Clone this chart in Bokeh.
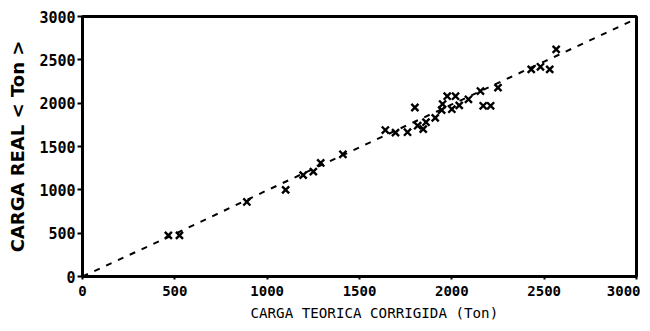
from bokeh.plotting import figure
from bokeh.models import Range1d, FixedTicker, Title
from bokeh.embed import file_html
from bokeh.resources import INLINE

# Data
carga_teorica = [465, 525, 890, 1100, 1195, 1250, 1290, 1410, 1640, 1695, 1760, 1800,
                 1815, 1845, 1860, 1910, 1945, 1950, 1975, 2000, 2020, 2040, 2090, 2155,
                 2170, 2210, 2250, 2430, 2480, 2530, 2565]
carga_real = [475, 475, 860, 1000, 1170, 1210, 1310, 1410, 1690, 1660, 1665, 1950,
              1740, 1700, 1780, 1830, 1920, 1990, 2080, 1930, 2080, 1975, 2045, 2140,
              1970, 1970, 2180, 2390, 2420, 2390, 2620]
fit_x = [0, 500, 1000, 1500, 2000, 2500, 3000]
fit_y = [0, 490, 995, 1490, 1985, 2480, 2975]
ticks = [0, 500, 1000, 1500, 2000, 2500, 3000]

p = figure(width=640, height=325, output_backend="svg", toolbar_location=None,
           x_range=Range1d(0, 3000), y_range=Range1d(0, 3000),
           min_border_left=82, min_border_right=4, min_border_top=16, min_border_bottom=10)
p.background_fill_color = "white"
p.border_fill_color = "white"
p.outline_line_color = "black"
p.outline_line_width = 3
p.xgrid.visible = False
p.ygrid.visible = False

p.line(fit_x, fit_y, line_color="black", line_width=2, line_dash="6 7")
p.scatter(carga_teorica, carga_real, marker="x", size=10, line_width=2.4, color="black")

for ax in (p.xaxis[0], p.yaxis[0]):
    ax.ticker = FixedTicker(ticks=ticks)
    ax.minor_tick_line_color = None
    ax.axis_line_color = "black"
    ax.axis_line_width = 3
    ax.major_tick_line_color = "black"
    ax.major_tick_line_width = 2
    ax.major_tick_in = 0
    ax.major_label_text_font = "DejaVu Sans Mono"
    ax.major_label_text_font_style = "bold"
    ax.major_label_text_color = "black"

p.xaxis.major_tick_out = 3
p.xaxis.major_label_standoff = 6
p.xaxis.major_label_text_font_size = "14px"

p.yaxis.major_tick_out = 5
p.yaxis.major_label_standoff = 2
p.yaxis.major_label_text_font_size = "15px"
p.yaxis.axis_label = "CARGA REAL < Ton >"
p.yaxis.axis_label_text_font = "DejaVu Sans"
p.yaxis.axis_label_text_font_style = "bold"
p.yaxis.axis_label_text_font_size = "18px"
p.yaxis.axis_label_text_color = "black"
p.yaxis.axis_label_standoff = 8

xtitle = Title(text="CARGA TEORICA CORRIGIDA (Ton)", align="left", offset=168,
               standoff=9, text_font="DejaVu Sans Mono", text_font_size="14.2px",
               text_font_style="normal", text_color="black")
p.add_layout(xtitle, "below")

open("out.html", "w").write(file_html(p, INLINE))
